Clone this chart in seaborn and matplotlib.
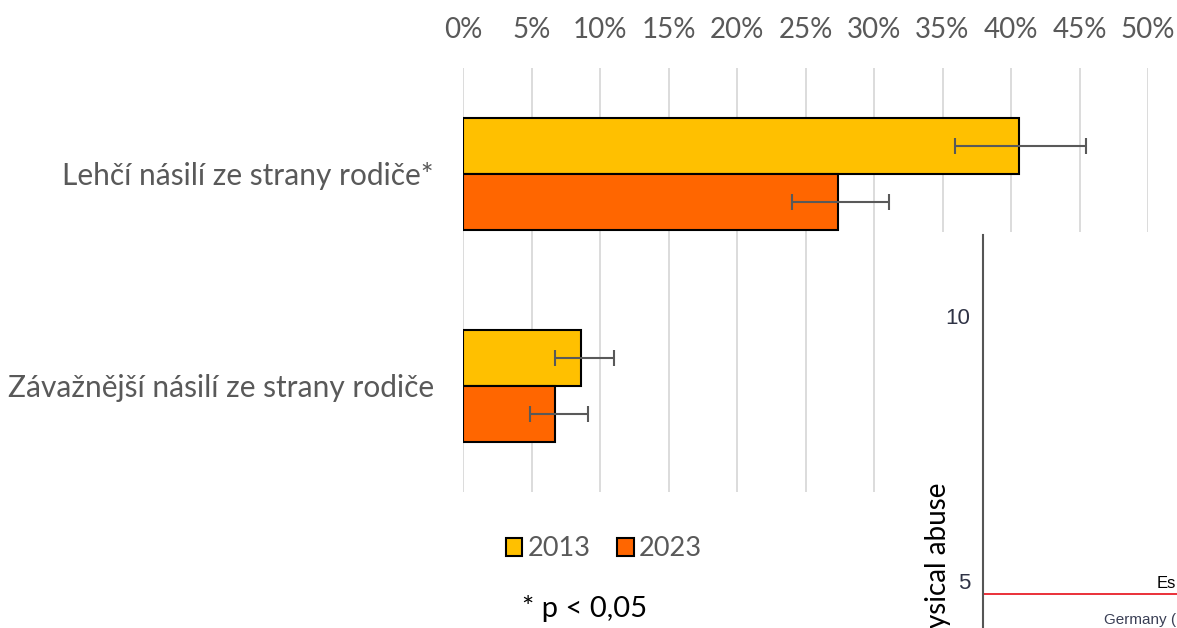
import numpy as np
import pandas as pd
import seaborn as sns
import matplotlib.pyplot as plt
from matplotlib.patches import Rectangle

# data
categories = ["Lehčí násilí ze strany rodiče*", "Závažnější násilí ze strany rodiče"]
years = ["2013", "2023"]
share_2013 = [40.6, 8.6]
share_2023 = [27.4, 6.7]
ci_low_2013 = [35.9, 6.7]
ci_high_2013 = [45.5, 11.0]
ci_low_2023 = [24.0, 4.9]
ci_high_2023 = [31.1, 9.1]
x_ticks = [0, 5, 10, 15, 20, 25, 30, 35, 40, 45, 50]

# the overlapped piece of another chart (bottom right of the screenshot)
inset_ticks = [5, 10]
inset_line = 4.75

sns.set_style("white")
plt.rcParams['font.family'] = ['Lato', 'DejaVu Sans']

df = pd.DataFrame({
    "kategorie": categories * 2,
    "rok": [years[0]] * 2 + [years[1]] * 2,
    "podil": share_2013 + share_2023,
})
vals = [share_2013, share_2023]
lows = [ci_low_2013, ci_low_2023]
highs = [ci_high_2013, ci_high_2023]

fig = plt.figure(figsize=(11.77, 6.28), dpi=100)
ax = fig.add_axes([463 / 1177, 1 - 492 / 628, 685 / 1177, 424 / 628])

sns.barplot(data=df, y="kategorie", x="podil", hue="rok", orient="h",
            palette=["#FFC000", "#FF6600"], saturation=1, width=0.526,
            edgecolor="black", linewidth=1.5, errorbar=None, ax=ax, zorder=3)

# confidence intervals
bar_groups = list(ax.containers)
for i, cont in enumerate(bar_groups):
    for j, bar in enumerate(cont):
        yc = bar.get_y() + bar.get_height() / 2
        v = vals[i][j]
        ax.errorbar(v, yc, xerr=[[v - lows[i][j]], [highs[i][j] - v]],
                    fmt="none", ecolor="#595959", elinewidth=1.5,
                    capsize=5.5, capthick=1.5, zorder=4)

ax.set_xlim(0, 50)
ax.set_ylim(1.5, -0.5)
ax.xaxis.tick_top()
ax.set_xticks(x_ticks)
ax.set_xticklabels([f"{v}%" for v in x_ticks])
ax.tick_params(axis="x", length=0, pad=18, labelsize=20, labelcolor="#595959")
ax.tick_params(axis="y", length=0, pad=21, labelsize=21.5, labelcolor="#595959")
ax.grid(axis="x", color="#d9d9d9", linewidth=1.3, zorder=0)
ax.set_axisbelow(True)
for s in ax.spines.values():
    s.set_visible(False)
ax.set_xlabel("")
ax.set_ylabel("")

handles, labels = ax.get_legend_handles_labels()
ax.get_legend().remove()
fig.legend(handles, labels, loc="center", bbox_to_anchor=(604 / 1177, 1 - 549 / 628),
           ncol=2, frameon=False, fontsize=19.5, handlelength=0.6, handleheight=0.6,
           handletextpad=0.2, columnspacing=1.0, labelcolor="#595959")

fig.text(585 / 1177, 1 - 609 / 628, "* p < 0,05", ha="center", va="center",
         fontsize=21, color="black")

# white patch of the overlapping screenshot
fig.patches.append(Rectangle((893 / 1177, 0), 1, 1 - 232 / 628, transform=fig.transFigure,
                             facecolor="white", edgecolor="none", zorder=1))

ins = fig.add_axes([983 / 1177, 0, 194 / 1177, (628 - 235) / 628])
ins.set_zorder(2)
ins.set_ylim(4.11, 11.53)
ins.set_xlim(0, 1)
ins.axhline(inset_line, color="#e8202a", linewidth=1.3)
ins.set_yticks(inset_ticks)
ins.set_yticklabels([str(v) for v in inset_ticks], family=["Liberation Sans"])
ins.tick_params(axis="y", length=7, width=1.2, color="#555555", labelsize=16,
                labelcolor="#2f3345", pad=2)
ins.set_xticks([])
for k in ["top", "right", "bottom"]:
    ins.spines[k].set_visible(False)
ins.spines["left"].set_color("#555555")
ins.spines["left"].set_linewidth(1.5)
ins.text(0.995, inset_line + 0.05, "Es", fontsize=12, color="black",
         family=["Liberation Sans"], ha="right", va="bottom")
ins.text(0.995, 4.26, "Germany (", fontsize=11, color="#3a3f55",
         family=["Liberation Sans"], ha="right", va="center")
fig.text(938 / 1177, 1 - 483 / 628, "ysical abuse", rotation=90, ha="center",
         va="top", fontsize=20, color="black", zorder=3)

fig.savefig("out.png", dpi=100)
